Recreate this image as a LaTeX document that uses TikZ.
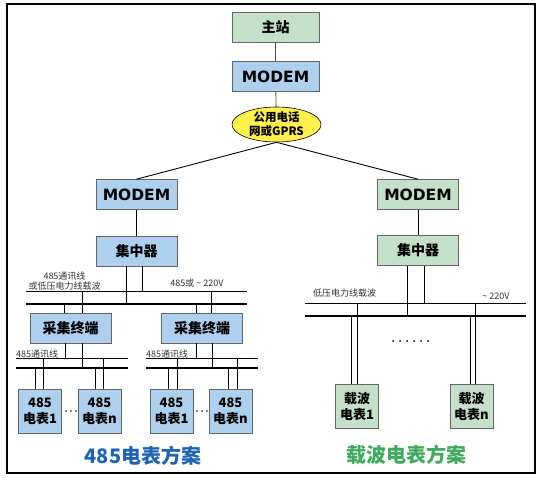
\documentclass[tikz,border=0pt]{standalone}
\usepackage{fontspec}
\setmainfont{Noto Sans CJK SC}
\newfontfamily\modemfont{DejaVu Sans}
\usetikzlibrary{shapes.geometric}
\definecolor{boxblue}{HTML}{ADD0EE}
\definecolor{boxgreen}{HTML}{C5E0C9}
\definecolor{netyellow}{HTML}{FFF04A}
\definecolor{titleblue}{HTML}{1E63B4}
\definecolor{titlegreen}{HTML}{3DAA5C}

\begin{document}
\begin{tikzpicture}[x=1pt,y=-1pt,
    box/.style={draw=gray!80!black,line width=0.6pt,inner sep=0pt,align=center},
    bluebox/.style={box,fill=boxblue},
    greenbox/.style={box,fill=boxgreen},
    topsize/.style={minimum width=87pt,minimum height=30pt},
    midsize/.style={minimum width=81pt,minimum height=30pt},
    metersize/.style={minimum width=43pt,minimum height=44pt},
    bigfont/.style={font=\bfseries\fontsize{14}{16}\selectfont},
    modemtxt/.style={font=\modemfont\bfseries\fontsize{15.5}{18}\selectfont},
    meterfont/.style={font=\bfseries\fontsize{13}{16}\selectfont},
    lbl/.style={font=\fontsize{9}{10}\selectfont,inner sep=0pt,align=center,text=black!80},
    wire/.style={line width=1pt},
    bus/.style={line width=1pt},
    busthick/.style={line width=1.7pt}]
    \useasboundingbox (0,0) rectangle (544,478);
    % draw the frame
    \draw[line width=2.2pt] (7,4) rectangle (535,473);
    % top part
    \node[greenbox,topsize,bigfont] (zhan) at (275.5,27) {主站};
    \node[bluebox,topsize,modemtxt] (modemT) at (275.5,76.5) {MODEM};
    \node[ellipse,draw,line width=0.6pt,fill=netyellow,minimum width=89pt,minimum height=35pt,inner sep=0pt] (net) at (276.5,124.5) {};
    \node[align=center,inner sep=0pt,font=\bfseries\fontsize{11.5}{14}\selectfont] (nettxt) at (net) {公用电话\\网或GPRS};
    \draw[gray!60!black,line width=0.8pt] (zhan) -- (modemT);
    \draw[gray!60!black,line width=0.8pt] (modemT) -- (net);
    % the two schemes
    \node[bluebox,midsize,modemtxt] (modemL) at (136.5,194.5) {MODEM};
    \node[bluebox,midsize,bigfont] (conL) at (136.5,251) {集中器};
    \node[greenbox,midsize,modemtxt] (modemR) at (418,194.5) {MODEM};
    \node[greenbox,midsize,bigfont] (conR) at (418,250.5) {集中器};
    \draw[line width=0.9pt] (net.south) -- (modemL.north);
    \draw[line width=0.9pt] (net.south) -- (modemR.north);
    \draw[line width=0.8pt] (modemL) -- (conL);
    \draw[line width=0.8pt] (modemR) -- (conR);
    \node[bluebox,midsize,bigfont] (cjL) at (70.5,328) {采集终端};
    \node[bluebox,midsize,bigfont] (cjR) at (202,328) {采集终端};
    \foreach \n/\x/\k in {m11/40/1,m1n/99.5/n,m21/171.5/1,m2n/230.5/n}
        \node[bluebox,metersize,meterfont] (\n) at (\x,411) {485\\电表\k};
    \node[greenbox,metersize,meterfont] (zb1) at (357,406.5) {载波\\电表1};
    \node[greenbox,metersize,meterfont] (zbn) at (471.5,406.5) {载波\\电表n};
    % bus lines
    \coordinate (L-up-W) at (26,292);  \coordinate (L-up-E) at (247,292);
    \coordinate (L-lo-W) at (26,304);  \coordinate (L-lo-E) at (247,304);
    \coordinate (A-up-W) at (16,359);  \coordinate (A-up-E) at (128,359);
    \coordinate (A-lo-W) at (16,368);  \coordinate (A-lo-E) at (128,368);
    \coordinate (B-up-W) at (146,359); \coordinate (B-up-E) at (258,359);
    \coordinate (B-lo-W) at (146,368); \coordinate (B-lo-E) at (258,368);
    \coordinate (R-up-W) at (305,304); \coordinate (R-up-E) at (526,304);
    \coordinate (R-lo-W) at (305,316); \coordinate (R-lo-E) at (526,316);
    \foreach \b in {L,A,B,R} {
        \draw[bus] (\b-up-W) -- (\b-up-E);
        \draw[busthick] (\b-lo-W) -- (\b-lo-E);
    }
    % drops from the boxes to the buses
    \foreach \n/\dx/\b in {conL/-10.5/L-lo,conL/5.5/L-up,conR/-11/R-lo,conR/6/R-up,
                           cjL/-5.5/A-up,cjL/11.5/A-lo,cjR/-6/B-up,cjR/10/B-lo}
        \draw[wire] ([xshift=\dx pt]\n.south) coordinate (t) -- (t |- \b-W);
    \foreach \n/\dx/\b in {cjL/-6.5/L-lo,cjL/11.5/L-up,cjR/-6/L-lo,cjR/9/L-up,
                           m11/-5/A-lo,m11/3/A-up,m1n/-4.5/A-lo,m1n/3.5/A-up,
                           m21/-3.5/B-lo,m21/5.5/B-up,m2n/-2.5/B-lo,m2n/6.5/B-up,
                           zb1/-6/R-lo,zb1/0/R-up,zbn/-1.5/R-lo,zbn/3.5/R-up}
        \draw[wire] ([xshift=\dx pt]\n.north) coordinate (t) -- (t |- \b-W);
    % dots
    \foreach \x in {66,71,76,197,202,207}
        \fill (\x,411) circle (0.8);
    \foreach \i in {0,...,5}
        \fill (393+\i*7,341) circle (1);
    % labels
    \node[lbl] (lab1) at (64.5,281) {485通讯线\\或低压电力线载波};
    \node[lbl] (lab2) at (197,283) {485或 \textasciitilde{} 220V};
    \node[lbl] (lab3) at (344.5,293) {低压电力线载波};
    \node[lbl] (lab4) at (496,296) {\textasciitilde{} 220V};
    \node[lbl,anchor=west] (lab5) at (16,354) {485通讯线};
    \node[lbl,anchor=west] (lab6) at (146,354) {485通讯线};
    \node[font=\bfseries\fontsize{20}{24}\selectfont,text=titleblue] (t485) at (143,456) {485电表方案};
    \node[font=\bfseries\fontsize{20}{24}\selectfont,text=titlegreen] (tzb) at (406,455) {载波电表方案};
\end{tikzpicture}
\end{document}
